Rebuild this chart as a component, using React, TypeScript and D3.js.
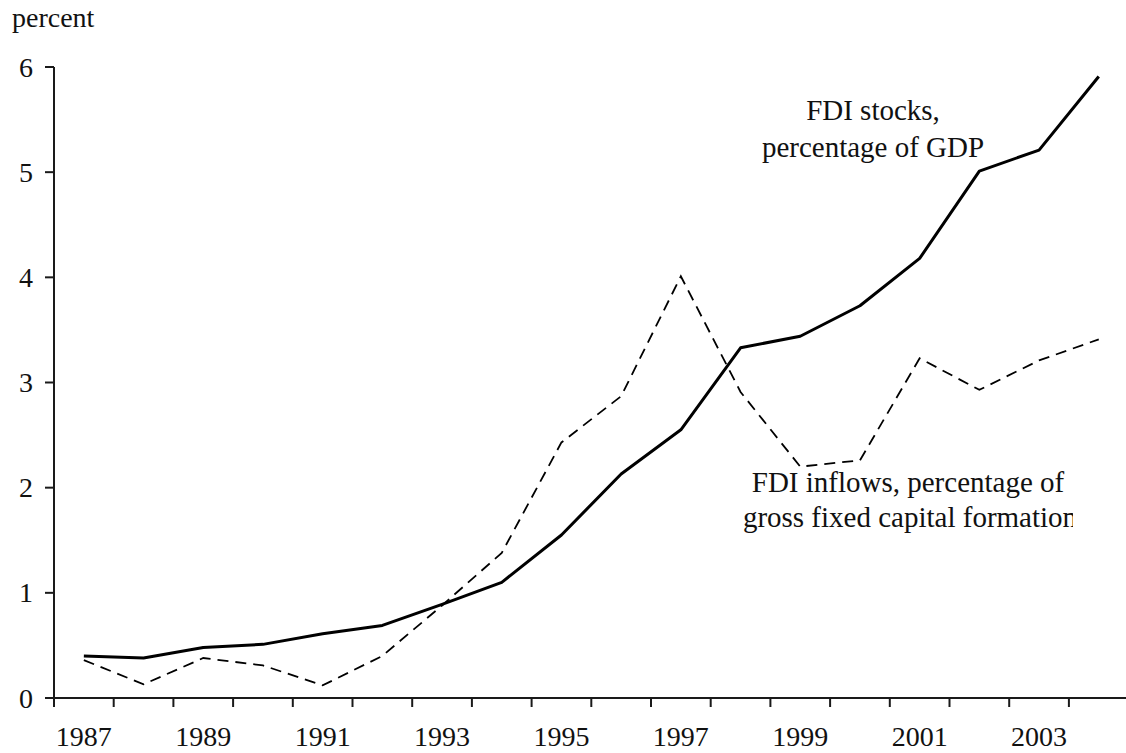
import * as d3 from 'd3';

const WIDTH = 1126;
const HEIGHT = 753;
const FONT = '"Liberation Serif", "Times New Roman", serif';

// years on the x axis, one band per year
const years = [
  1987, 1988, 1989, 1990, 1991, 1992, 1993, 1994, 1995,
  1996, 1997, 1998, 1999, 2000, 2001, 2002, 2003, 2004,
];

// FDI stocks, percentage of GDP
const stocks = [
  0.4, 0.38, 0.48, 0.51, 0.61, 0.69, 0.89, 1.1, 1.55,
  2.13, 2.55, 3.33, 3.44, 3.73, 4.18, 5.01, 5.21, 5.91,
];

// FDI inflows, percentage of gross fixed capital formation
const inflows = [
  0.36, 0.13, 0.38, 0.31, 0.12, 0.4, 0.88, 1.38, 2.43,
  2.87, 4.01, 2.91, 2.2, 2.26, 3.23, 2.93, 3.21, 3.41,
];

const yTicks = [0, 1, 2, 3, 4, 5, 6];
const xLabels = [1987, 1989, 1991, 1993, 1995, 1997, 1999, 2001, 2003];

const MARGIN = { top: 67, left: 54, bottom: 55 };

export default function App() {
  const xScale = d3
    .scaleBand<number>()
    .domain(years)
    .range([MARGIN.left, MARGIN.left + 18 * 59.7])
    .padding(0);

  const yScale = d3
    .scaleLinear()
    .domain([0, 6])
    .range([HEIGHT - MARGIN.bottom, MARGIN.top]);

  const cx = (yr: number) => (xScale(yr) ?? 0) + xScale.bandwidth() / 2;

  const line = d3
    .line<number>()
    .x((_, i) => cx(years[i]))
    .y((d) => yScale(d));

  const y0 = yScale(0);
  const axisColor = '#1a1a1a';

  // tick marks sit on band edges, plus the last one
  const edges = years.map((yr) => xScale(yr) ?? 0).concat([xScale.range()[1]]);

  return (
    <svg
      width={WIDTH}
      height={HEIGHT}
      style={{ position: 'absolute', left: 0, top: 0, background: '#fff' }}
      fontFamily={FONT}
    >
      <defs>
        <clipPath id="labelClip">
          <rect x={0} y={0} width={1073} height={HEIGHT} />
        </clipPath>
      </defs>

      <text x={12} y={27} fontSize={28} fill="#111">
        percent
      </text>

      {/* y axis */}
      <line
        x1={MARGIN.left}
        x2={MARGIN.left}
        y1={yScale(6)}
        y2={y0}
        stroke={axisColor}
        strokeWidth={2}
      />
      {yTicks.map((t) => (
        <g key={t}>
          <line
            x1={MARGIN.left - 9}
            x2={MARGIN.left}
            y1={yScale(t)}
            y2={yScale(t)}
            stroke={axisColor}
            strokeWidth={2}
          />
          <text
            x={33}
            y={yScale(t)}
            textAnchor="end"
            dominantBaseline="central"
            fontSize={28}
            fill="#111"
          >
            {t}
          </text>
        </g>
      ))}

      {/* x axis */}
      <line
        x1={MARGIN.left}
        x2={WIDTH + 4}
        y1={y0}
        y2={y0}
        stroke={axisColor}
        strokeWidth={2}
      />
      {edges.map((x, i) => (
        <line
          key={i}
          x1={x}
          x2={x}
          y1={y0}
          y2={y0 + 9}
          stroke={axisColor}
          strokeWidth={2}
        />
      ))}
      {xLabels.map((yr) => (
        <text
          key={yr}
          x={cx(yr)}
          y={746}
          textAnchor="middle"
          fontSize={28}
          fill="#111"
        >
          {yr}
        </text>
      ))}

      {/* series */}
      <path
        d={line(inflows) ?? ''}
        fill="none"
        stroke="#000"
        strokeWidth={1.8}
        strokeDasharray="11,7"
      />
      <path
        d={line(stocks) ?? ''}
        fill="none"
        stroke="#000"
        strokeWidth={3}
        strokeLinejoin="round"
      />

      {/* labels */}
      <g fontSize={29} fill="#111" textAnchor="middle">
        <text x={873} y={120}>FDI stocks,</text>
        <text x={873} y={157}>percentage of GDP</text>
      </g>
      <g fontSize={29} fill="#111" textAnchor="middle" clipPath="url(#labelClip)">
        <text x={908} y={492}>FDI inflows, percentage of</text>
        <text x={910} y={527}>gross fixed capital formation</text>
      </g>
    </svg>
  );
}
